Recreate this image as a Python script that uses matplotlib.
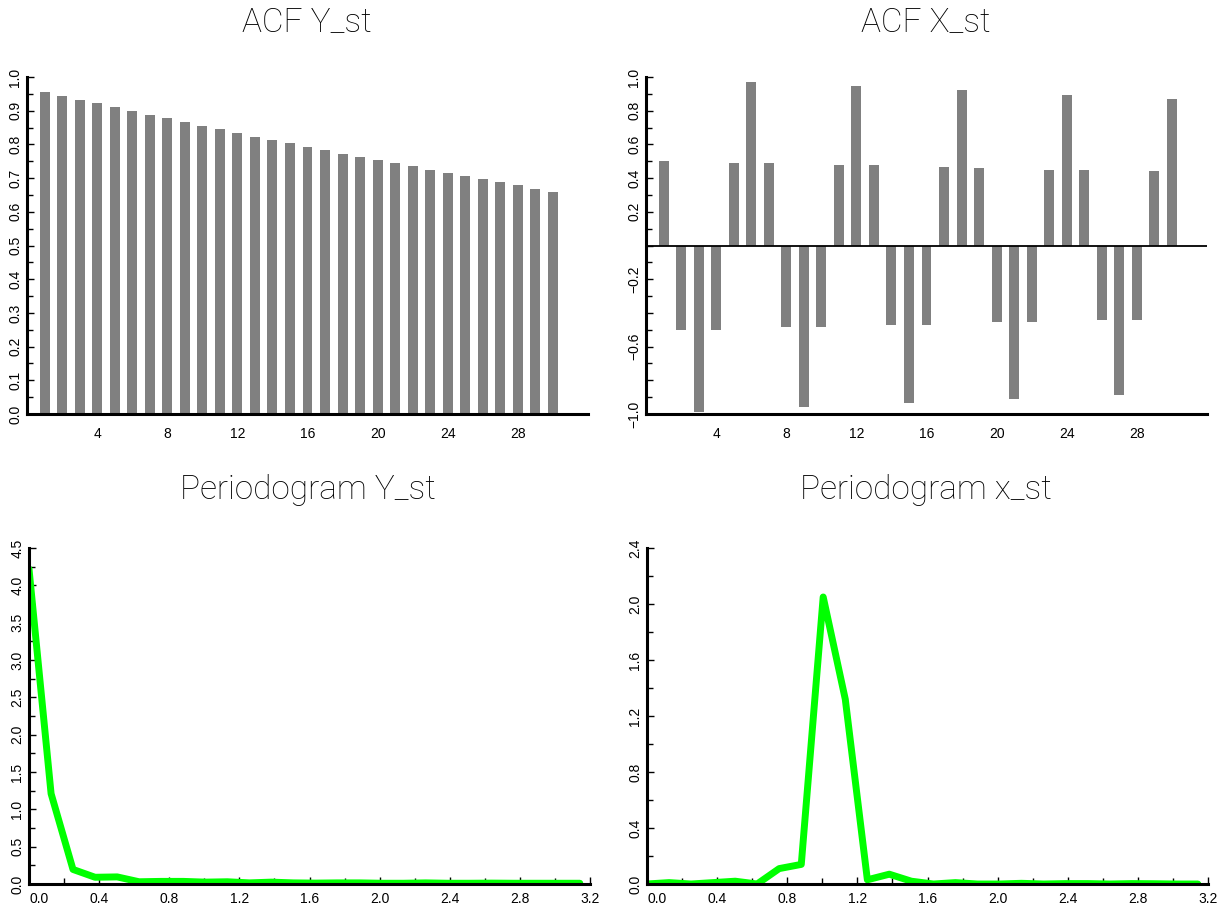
import numpy as np
import matplotlib
matplotlib.use("Agg")
import matplotlib.pyplot as plt

# ACF values, lags 1..30
lags = list(range(1, 31))
acf_y = [0.955, 0.944, 0.933, 0.922, 0.911, 0.900, 0.888, 0.877, 0.866, 0.855,
         0.845, 0.834, 0.823, 0.812, 0.803, 0.792, 0.782, 0.772, 0.762, 0.753,
         0.744, 0.735, 0.725, 0.716, 0.706, 0.697, 0.688, 0.679, 0.668, 0.660]
acf_x = [0.50, -0.50, -0.99, -0.50, 0.49, 0.97, 0.49, -0.485, -0.96, -0.485,
         0.475, 0.945, 0.475, -0.47, -0.935, -0.47, 0.465, 0.92, 0.46, -0.455,
         -0.91, -0.455, 0.45, 0.895, 0.45, -0.445, -0.885, -0.445, 0.44, 0.87]

# periodogram, Fourier frequencies
freq = [0.0, 0.126, 0.251, 0.377, 0.503, 0.628, 0.754, 0.880, 1.005, 1.131,
        1.257, 1.382, 1.508, 1.634, 1.759, 1.885, 2.011, 2.136, 2.262, 2.388,
        2.513, 2.639, 2.765, 2.890, 3.016, 3.142]
per_y = [4.22, 1.21, 0.195, 0.09, 0.095, 0.03, 0.035, 0.035, 0.025, 0.03,
         0.015, 0.025, 0.015, 0.012, 0.015, 0.015, 0.01, 0.01, 0.015, 0.01,
         0.01, 0.012, 0.01, 0.01, 0.01, 0.01]
per_x = [0.0, 0.01, 0.0, 0.01, 0.02, 0.0, 0.11, 0.14, 2.05, 1.32,
         0.03, 0.07, 0.02, 0.0, 0.01, 0.0, 0.0, 0.005, 0.0, 0.003,
         0.003, 0.0, 0.003, 0.002, 0.0, 0.0]

# tick labels
lag_ticks = [4, 8, 12, 16, 20, 24, 28]
acfy_ticks = ['0.0', '0.1', '0.2', '0.3', '0.4', '0.5', '0.6', '0.7', '0.8', '0.9', '1.0']
acfx_ticks = ['\u22121.0', '', '\u22120.6', '', '\u22120.2', '', '0.2', '0.4', '0.6', '0.8', '1.0']
freq_ticks = ['0.0', '0.4', '0.8', '1.2', '1.6', '2.0', '2.4', '2.8', '3.2']
pery_ticks = ['0.0', '0.5', '1.0', '1.5', '2.0', '2.5', '3.0', '3.5', '4.0', '4.5']
perx_ticks = ['0.0', '0.4', '0.8', '1.2', '1.6', '2.0', '2.4']

plt.rcParams['font.family'] = ['Liberation Sans', 'DejaVu Sans']

W, H = 1220, 911
fig = plt.figure(figsize=(W / 100, H / 100), dpi=100)

def box(l, t, r, b):
    return [l / W, 1 - b / H, (r - l) / W, (b - t) / H]

ax1 = fig.add_axes(box(27, 77, 588, 414))
ax2 = fig.add_axes(box(646, 77, 1207, 414))
ax3 = fig.add_axes(box(29, 548, 590, 884))
ax4 = fig.add_axes(box(647, 548, 1208, 884))

def style(ax):
    for s in ['top', 'right']:
        ax.spines[s].set_visible(False)
    for s in ['left', 'bottom']:
        ax.spines[s].set_linewidth(2.2)
    ax.tick_params(axis='both', which='both', direction='in', width=1, labelsize=10)
    ax.tick_params(axis='both', which='major', length=5)
    ax.tick_params(axis='both', which='minor', length=4)
    for lab in ax.get_yticklabels():
        lab.set_rotation(90)
        lab.set_va('center')

# ACF Y_st
ax1.bar(lags, acf_y, width=0.57, color='#808080')
ax1.set_xlim(0, 32)
ax1.set_ylim(0, 1.0)
ax1.set_yticks(np.linspace(0, 1, 11), acfy_ticks)
ax1.set_yticks(np.linspace(0.05, 0.95, 10), minor=True)
ax1.set_xticks(lag_ticks)
style(ax1)
ax1.tick_params(axis='x', length=0, pad=9)

# ACF X_st
ax2.bar(lags, acf_x, width=0.57, color='#808080')
ax2.axhline(0, color='black', lw=1.3)
ax2.set_xlim(0, 32)
ax2.set_ylim(-1.0, 1.0)
ax2.set_yticks(np.linspace(-1, 1, 11), acfx_ticks)
ax2.set_yticks(np.linspace(-0.9, 0.9, 10), minor=True)
ax2.set_xticks(lag_ticks)
style(ax2)
ax2.tick_params(axis='x', length=0, pad=9)

# Periodogram Y_st
ax3.plot(freq, per_y, color='#00ff00', lw=5, solid_capstyle='round')
ax3.set_xlim(0, 3.2)
ax3.set_ylim(0, 4.5)
ax3.set_xticks(np.linspace(0, 3.2, 9), freq_ticks)
ax3.set_xticks(np.linspace(0.2, 3.0, 8), minor=True)
ax3.set_yticks(np.linspace(0, 4.5, 10), pery_ticks)
ax3.set_yticks(np.linspace(0.25, 4.25, 9), minor=True)
style(ax3)

# Periodogram x_st
ax4.plot(freq, per_x, color='#00ff00', lw=5, solid_capstyle='round')
ax4.set_xlim(0, 3.2)
ax4.set_ylim(0, 2.4)
ax4.set_xticks(np.linspace(0, 3.2, 9), freq_ticks)
ax4.set_xticks(np.linspace(0.2, 3.0, 8), minor=True)
ax4.set_yticks(np.linspace(0, 2.4, 7), perx_ticks)
ax4.set_yticks(np.linspace(0.2, 2.2, 6), minor=True)
style(ax4)

for ax in [ax3, ax4]:
    ax.tick_params(axis='x', pad=6)
    labs = ax.get_xticklabels()
    labs[0].set_ha('left')

tfont = dict(family=['Roboto', 'DejaVu Sans'], weight='light', fontsize=24, ha='center', va='center')
fig.text(307 / W, 1 - 22 / H, 'ACF Y_st', **tfont)
fig.text(926 / W, 1 - 22 / H, 'ACF X_st', **tfont)
fig.text(308 / W, 1 - 490 / H, 'Periodogram Y_st', **tfont)
fig.text(926 / W, 1 - 490 / H, 'Periodogram x_st', **tfont)

fig.savefig('out.png', dpi=100)
